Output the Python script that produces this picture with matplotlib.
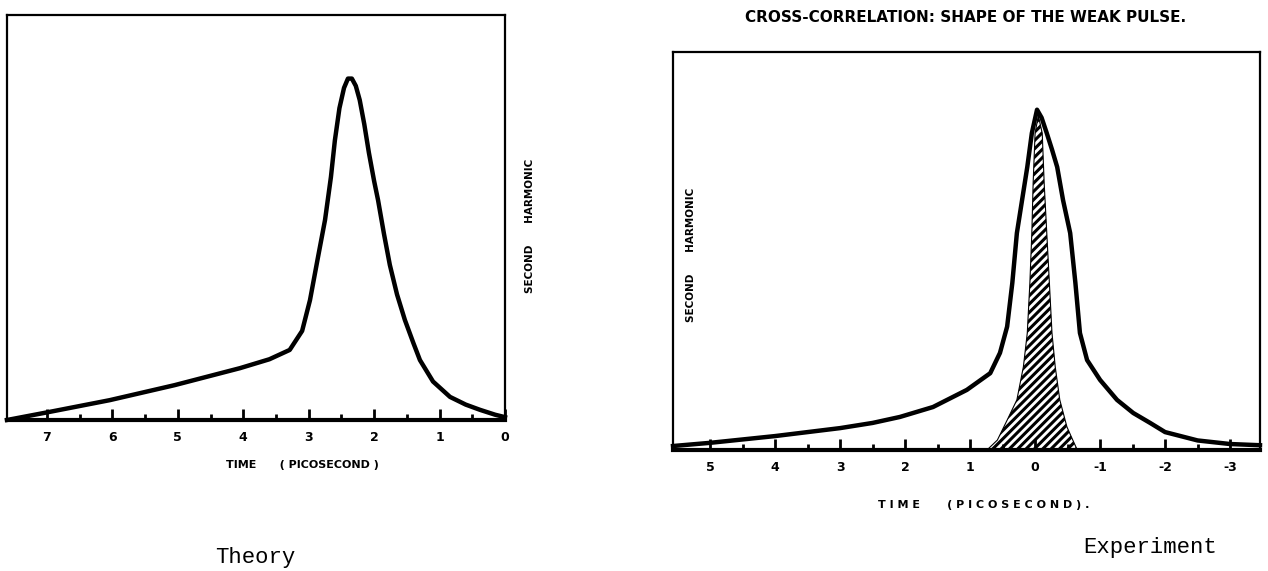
import numpy as np
import matplotlib.pyplot as plt

# theory curve (left panel), time in ps, signal normalised to box height
theory_t = [7.61, 6.96, 6.04, 5.05, 4.05, 3.6, 3.29, 3.1, 2.98, 2.86, 2.75, 2.66, 2.6, 2.53,
            2.46, 2.40, 2.34, 2.28, 2.22, 2.15, 2.08, 2.0, 1.94, 1.85, 1.76, 1.65, 1.53, 1.40,
            1.30, 1.1, 0.84, 0.6, 0.38, 0.15, 0.0]
theory_y = [0.0, 0.02, 0.049, 0.086, 0.128, 0.150, 0.173, 0.22, 0.296, 0.40, 0.494, 0.60, 0.69, 0.77,
            0.82, 0.843, 0.843, 0.825, 0.79, 0.73, 0.66, 0.59, 0.543, 0.46, 0.383, 0.31, 0.247, 0.19,
            0.148, 0.095, 0.057, 0.038, 0.025, 0.013, 0.007]

# cross-correlation (right panel)
exp_t = [5.57, 5.0, 4.0, 3.0, 2.5, 2.08, 1.57, 1.05, 0.69, 0.54, 0.43, 0.35, 0.28, 0.2, 0.12,
         0.05, -0.03, -0.1, -0.18, -0.26, -0.34, -0.43, -0.54, -0.62, -0.69, -0.8, -1.0, -1.26,
         -1.51, -1.77, -2.0, -2.5, -3.0, -3.46]
exp_y = [0.01, 0.018, 0.035, 0.055, 0.068, 0.083, 0.108, 0.151, 0.193, 0.244, 0.31, 0.42, 0.545,
         0.628, 0.711, 0.796, 0.855, 0.835, 0.796, 0.755, 0.711, 0.628, 0.545, 0.42, 0.294, 0.226,
         0.176, 0.126, 0.093, 0.068, 0.045, 0.024, 0.015, 0.012]

# weak pulse (hatched)
pulse_t = [0.74, 0.58, 0.43, 0.28, 0.18, 0.12, 0.08, 0.05, 0.03, 0.0, -0.05, -0.11, -0.14, -0.18,
           -0.22, -0.26, -0.31, -0.38, -0.49, -0.58, -0.65]
pulse_y = [0.0, 0.025, 0.075, 0.126, 0.209, 0.294, 0.42, 0.545, 0.67, 0.796, 0.84, 0.796, 0.67,
           0.545, 0.42, 0.294, 0.209, 0.126, 0.058, 0.025, 0.0]

left_ticks = [7, 6, 5, 4, 3, 2, 1, 0]
right_ticks = [5, 4, 3, 2, 1, 0, -1, -2, -3]

plt.rcParams['hatch.linewidth'] = 2.2
W, H = 1268, 571


def style_axis(ax, ticks, xlim):
    ax.set_xlim(xlim)
    ax.set_ylim(0, 1)
    ax.set_yticks([])
    ax.set_xticks(ticks)
    ax.set_xticklabels([str(t) for t in ticks], fontsize=9, fontweight='heavy')
    ax.set_xticks(np.arange(min(ticks) + 0.5, max(ticks), 1.0), minor=True)
    ax.tick_params(axis='x', which='major', direction='in', length=8, width=2, pad=8)
    ax.tick_params(axis='x', which='minor', direction='in', length=4, width=2)
    for s in ['top', 'left', 'right']:
        ax.spines[s].set_linewidth(1.6)
    ax.spines['bottom'].set_linewidth(3)


fig = plt.figure(figsize=(W / 100, H / 100), dpi=100)

ax1 = fig.add_axes([7 / W, 1 - 420 / H, 498 / W, 405 / H])
ax1.plot(theory_t, theory_y, color='black', lw=3.2, solid_joinstyle='round', clip_on=False)
style_axis(ax1, left_ticks, (7.61, 0))
ax1.set_xlabel('TIME      ( PICOSECOND )', fontsize=8, fontweight='heavy')
ax1.xaxis.set_label_coords(0.594, -0.1)
ax1.text(1.05, 0.48, 'SECOND      HARMONIC', rotation=90, transform=ax1.transAxes,
         ha='center', va='center', fontsize=7.5, fontweight='heavy')

ax2 = fig.add_axes([673 / W, 1 - 450 / H, 587 / W, 398 / H])
ax2.fill_between(pulse_t, 0, pulse_y, facecolor='white', edgecolor='black', hatch='////', lw=0.8)
ax2.plot(exp_t, exp_y, color='black', lw=3.2, solid_joinstyle='round', clip_on=False)
style_axis(ax2, right_ticks, (5.57, -3.46))
ax2.set_xlabel('T I M E       ( P I C O S E C O N D ) .', fontsize=8, fontweight='heavy')
ax2.xaxis.set_label_coords(0.53, -0.125)
ax2.text(0.03, 0.49, 'SECOND      HARMONIC', rotation=90, transform=ax2.transAxes,
         ha='center', va='center', fontsize=7.5, fontweight='heavy')

fig.text(966 / W, 1 - 18 / H, 'CROSS-CORRELATION: SHAPE OF THE WEAK PULSE.',
         ha='center', va='center', fontsize=11, fontweight='heavy')

fig.text(255 / W, 1 - 547 / H, 'Theory', family='Liberation Mono', fontsize=16,
         ha='center', va='top')
fig.text(1150 / W, 1 - 537 / H, 'Experiment', family='Liberation Mono', fontsize=16,
         ha='center', va='top')

plt.savefig('out.png', dpi=100)
